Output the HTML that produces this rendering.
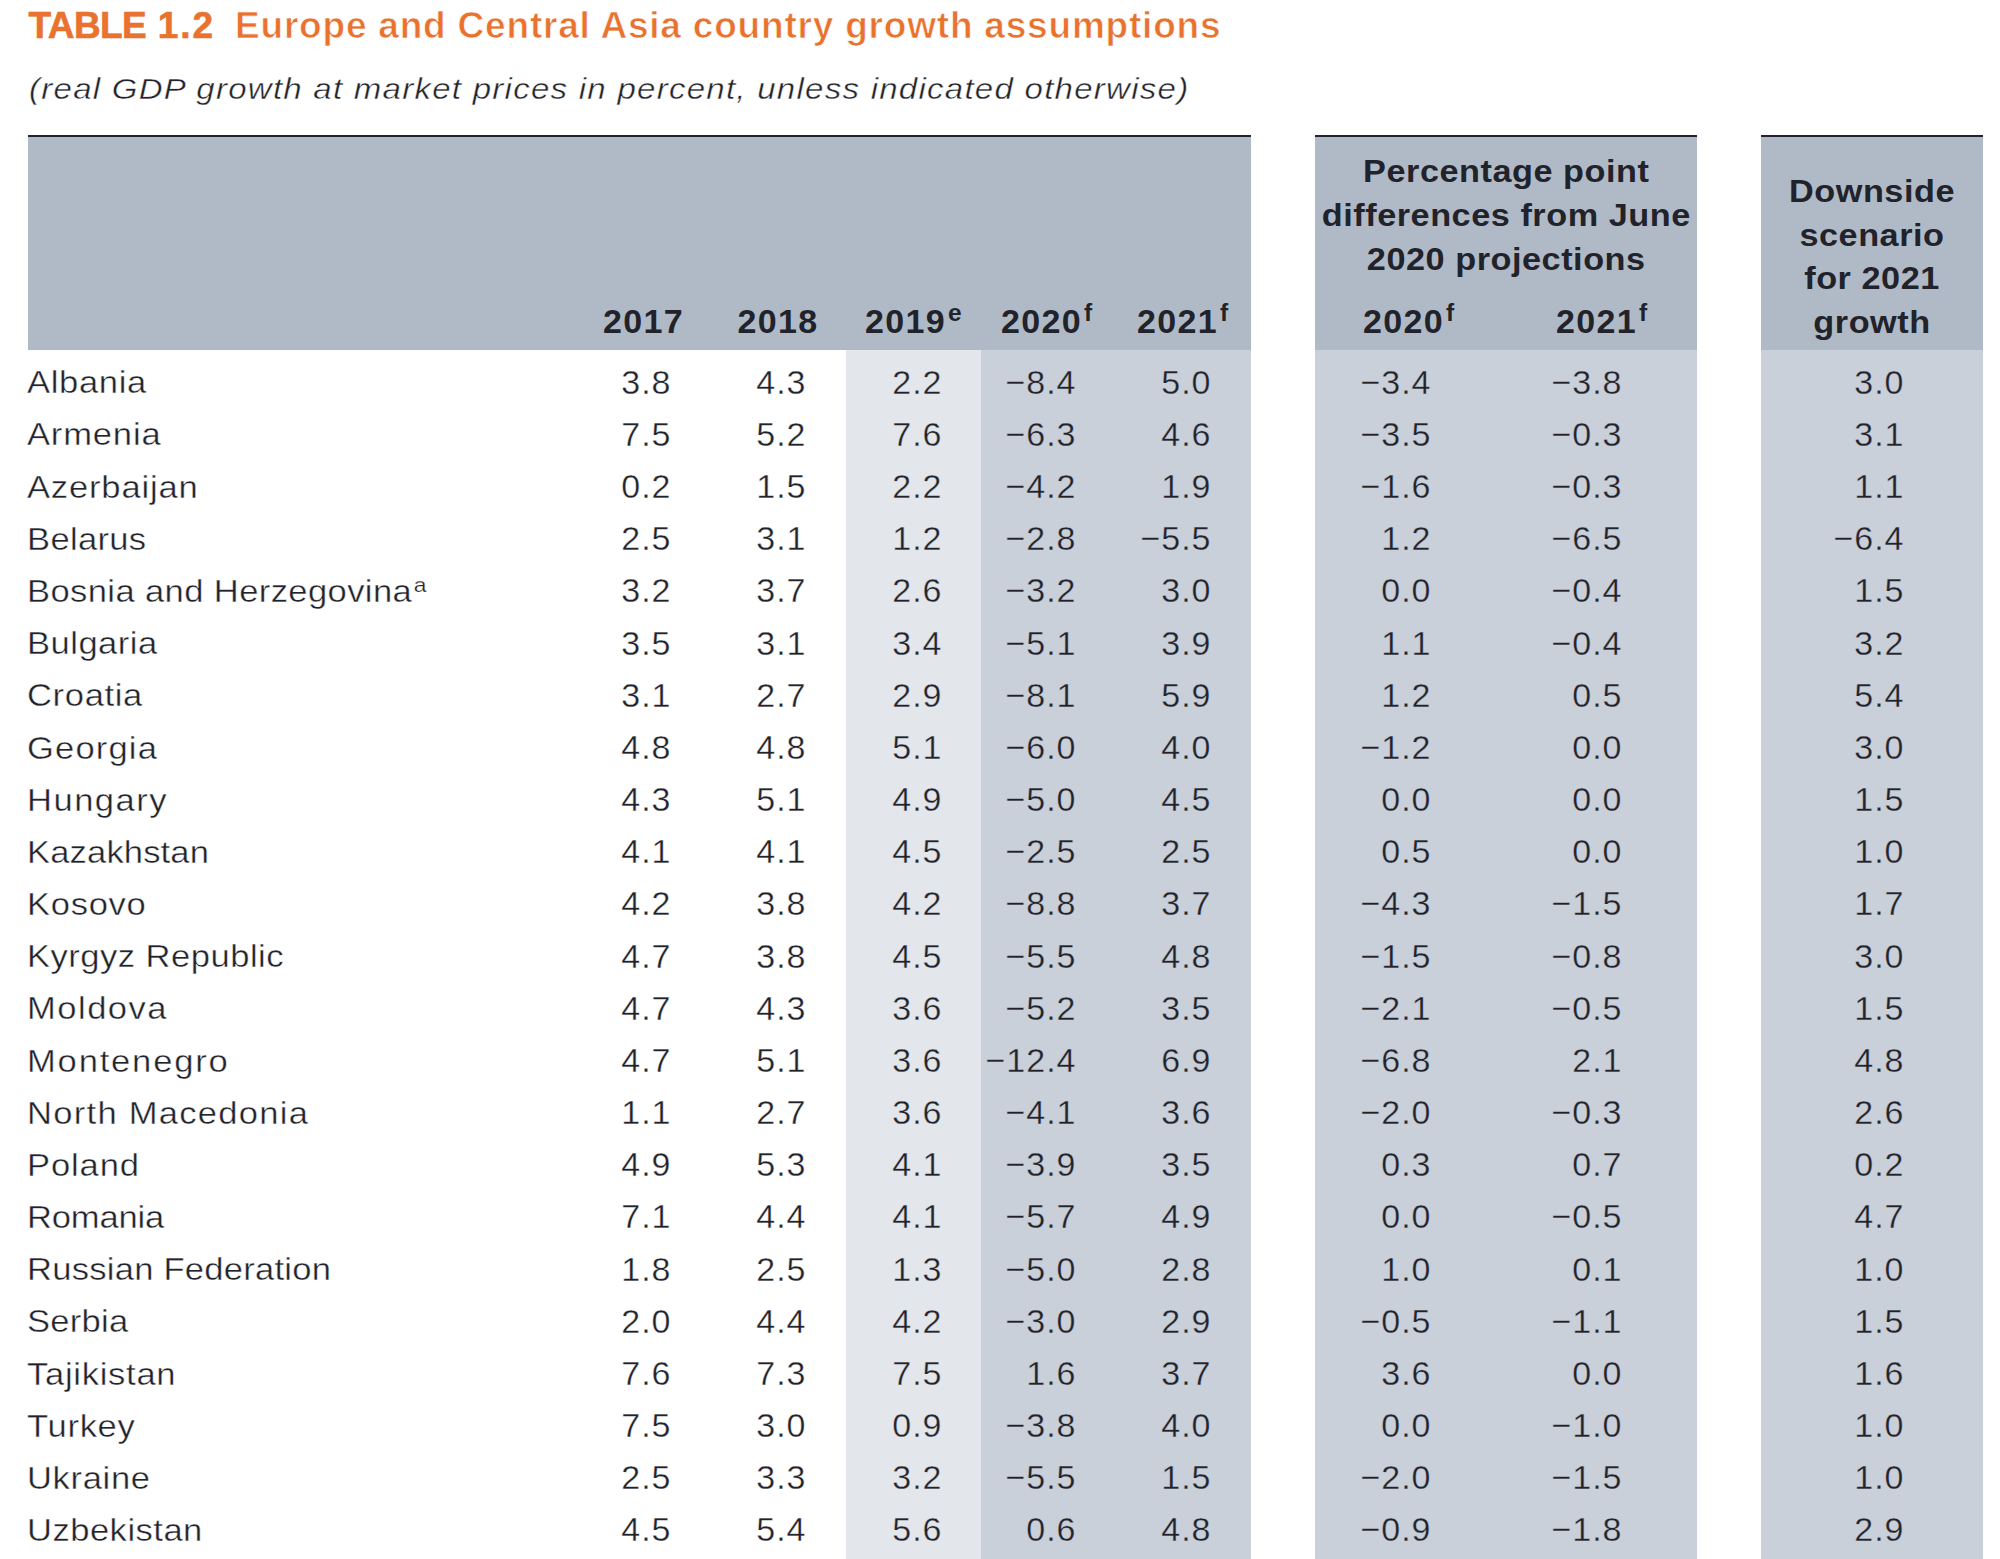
<!DOCTYPE html>
<html lang="en"><head><meta charset="utf-8"><title>Table 1.2 Europe and Central Asia country growth assumptions</title>
<style>
html,body{margin:0;padding:0;background:#fff;}
body{width:2000px;height:1559px;position:relative;overflow:hidden;font-family:"Liberation Sans",sans-serif;color:#22232a;}
.abs{position:absolute;white-space:nowrap;}
.bg{position:absolute;}
.rule{position:absolute;height:2.5px;top:134.5px;background:#24232d;}
.hd{background:#b0bac7;top:137px;height:213px;}
h1{position:absolute;margin:0;white-space:nowrap;font-weight:bold;color:#e8722e;}
.sub{font-style:italic;}
.b{font-weight:bold;}
.row{position:absolute;left:0;width:2000px;height:52px;}
.row span{position:absolute;white-space:nowrap;top:0;}
.c{font-size:32px;line-height:52px;letter-spacing:0.45px;transform:scaleX(1.08);transform-origin:0 50%;-webkit-text-stroke:0.4px #fff;}
.n{margin-top:-0.6px;text-align:right;font-size:34px;line-height:52px;letter-spacing:1px;-webkit-text-stroke:0.35px #c9d0da;}
.k0,.k1{-webkit-text-stroke-color:#fff;}
.k2{-webkit-text-stroke-color:#e3e7ec;}
sup{font-size:0.72em;vertical-align:baseline;position:relative;top:-0.48em;line-height:0;letter-spacing:0;margin-left:2px;}
.row sup{font-size:0.66em;top:-0.46em;-webkit-text-stroke-width:0.25px;margin-left:1.5px;}
.th{position:absolute;white-space:nowrap;font-weight:bold;}
.thc{position:absolute;text-align:center;font-weight:bold;white-space:nowrap;transform:scaleX(1.07);transform-origin:50% 50%;}
</style></head><body>
<h1 style="left:28.5px;top:6.68px;font-size:37px;line-height:37px;letter-spacing:-0.6px;-webkit-text-stroke:0.6px #e8722e;">TABLE <span style="letter-spacing:1.9px;margin-left:2px;">1.2</span><span style="position:absolute;left:206.5px;top:0;letter-spacing:0.8px;-webkit-text-stroke:0.7px #fff;">Europe and Central Asia country growth assumptions</span></h1>
<div class="abs sub" style="left:29px;top:73.60px;font-size:30px;line-height:30px;letter-spacing:1.15px;transform:scaleX(1.1);transform-origin:0 50%;-webkit-text-stroke:0.4px #fff;">(real GDP growth at market prices in percent, unless indicated otherwise)</div>
<div class="rule" style="left:28px;width:1222.5px;"></div>
<div class="bg hd" style="left:28px;width:1222.5px;"></div>
<div class="rule" style="left:1314.5px;width:382.5px;"></div>
<div class="bg hd" style="left:1314.5px;width:382.5px;"></div>
<div class="rule" style="left:1761px;width:222px;"></div>
<div class="bg hd" style="left:1761px;width:222px;"></div>
<div class="bg" style="left:846px;width:135px;top:350px;height:1209px;background:#e3e7ec;"></div>
<div class="bg" style="left:981px;width:269.5px;top:350px;height:1209px;background:#c9d0da;"></div>
<div class="bg" style="left:1314.5px;width:382.5px;top:350px;height:1209px;background:#c9d0da;"></div>
<div class="bg" style="left:1761px;width:222px;top:350px;height:1209px;background:#c9d0da;"></div>
<div class="th" style="left:603px;top:303.92px;font-size:34px;line-height:34px;letter-spacing:1.35px;">2017</div>
<div class="th" style="left:737.5px;top:303.92px;font-size:34px;line-height:34px;letter-spacing:1.35px;">2018</div>
<div class="th" style="left:865px;top:303.92px;font-size:34px;line-height:34px;letter-spacing:1.35px;">2019<sup>e</sup></div>
<div class="th" style="left:1001px;top:303.92px;font-size:34px;line-height:34px;letter-spacing:1.35px;">2020<sup>f</sup></div>
<div class="th" style="left:1137px;top:303.92px;font-size:34px;line-height:34px;letter-spacing:1.35px;">2021<sup>f</sup></div>
<div class="th" style="left:1363px;top:303.92px;font-size:34px;line-height:34px;letter-spacing:1.35px;">2020<sup>f</sup></div>
<div class="th" style="left:1556px;top:303.92px;font-size:34px;line-height:34px;letter-spacing:1.35px;">2021<sup>f</sup></div>
<div class="thc" style="left:1314.5px;width:382.5px;top:155.41px;font-size:32px;line-height:32px;letter-spacing:0.5px;">Percentage point</div>
<div class="thc" style="left:1314.5px;width:382.5px;top:198.91px;font-size:32px;line-height:32px;letter-spacing:0.5px;">differences from June</div>
<div class="thc" style="left:1314.5px;width:382.5px;top:242.91px;font-size:32px;line-height:32px;letter-spacing:0.5px;">2020 projections</div>
<div class="thc" style="left:1761px;width:222px;top:175.41px;font-size:32px;line-height:32px;letter-spacing:0.5px;">Downside</div>
<div class="thc" style="left:1761px;width:222px;top:218.91px;font-size:32px;line-height:32px;letter-spacing:0.5px;">scenario</div>
<div class="thc" style="left:1761px;width:222px;top:261.91px;font-size:32px;line-height:32px;letter-spacing:0.5px;">for 2021</div>
<div class="thc" style="left:1761px;width:222px;top:305.61px;font-size:32px;line-height:32px;letter-spacing:0.5px;">growth</div>
<div class="row" style="top:356.32px;"><span class="c" style="left:27px;letter-spacing:0.60px;">Albania</span><span class="n k0" style="right:1328.5px;">3.8</span><span class="n k1" style="right:1193.5px;">4.3</span><span class="n k2" style="right:1057.5px;">2.2</span><span class="n k3" style="right:923.5px;">−8.4</span><span class="n k4" style="right:788.5px;">5.0</span><span class="n k5" style="right:568.5px;">−3.4</span><span class="n k6" style="right:377.5px;">−3.8</span><span class="n k7" style="right:95.5px;">3.0</span></div>
<div class="row" style="top:408.49px;"><span class="c" style="left:27px;letter-spacing:0.76px;">Armenia</span><span class="n k0" style="right:1328.5px;">7.5</span><span class="n k1" style="right:1193.5px;">5.2</span><span class="n k2" style="right:1057.5px;">7.6</span><span class="n k3" style="right:923.5px;">−6.3</span><span class="n k4" style="right:788.5px;">4.6</span><span class="n k5" style="right:568.5px;">−3.5</span><span class="n k6" style="right:377.5px;">−0.3</span><span class="n k7" style="right:95.5px;">3.1</span></div>
<div class="row" style="top:460.66px;"><span class="c" style="left:27px;letter-spacing:0.76px;">Azerbaijan</span><span class="n k0" style="right:1328.5px;">0.2</span><span class="n k1" style="right:1193.5px;">1.5</span><span class="n k2" style="right:1057.5px;">2.2</span><span class="n k3" style="right:923.5px;">−4.2</span><span class="n k4" style="right:788.5px;">1.9</span><span class="n k5" style="right:568.5px;">−1.6</span><span class="n k6" style="right:377.5px;">−0.3</span><span class="n k7" style="right:95.5px;">1.1</span></div>
<div class="row" style="top:512.83px;"><span class="c" style="left:27px;letter-spacing:0.30px;">Belarus</span><span class="n k0" style="right:1328.5px;">2.5</span><span class="n k1" style="right:1193.5px;">3.1</span><span class="n k2" style="right:1057.5px;">1.2</span><span class="n k3" style="right:923.5px;">−2.8</span><span class="n k4" style="right:788.5px;">−5.5</span><span class="n k5" style="right:568.5px;">1.2</span><span class="n k6" style="right:377.5px;">−6.5</span><span class="n k7" style="right:95.5px;">−6.4</span></div>
<div class="row" style="top:565.00px;"><span class="c" style="left:27px;letter-spacing:0.36px;">Bosnia and Herzegovina<sup>a</sup></span><span class="n k0" style="right:1328.5px;">3.2</span><span class="n k1" style="right:1193.5px;">3.7</span><span class="n k2" style="right:1057.5px;">2.6</span><span class="n k3" style="right:923.5px;">−3.2</span><span class="n k4" style="right:788.5px;">3.0</span><span class="n k5" style="right:568.5px;">0.0</span><span class="n k6" style="right:377.5px;">−0.4</span><span class="n k7" style="right:95.5px;">1.5</span></div>
<div class="row" style="top:617.17px;"><span class="c" style="left:27px;letter-spacing:0.45px;">Bulgaria</span><span class="n k0" style="right:1328.5px;">3.5</span><span class="n k1" style="right:1193.5px;">3.1</span><span class="n k2" style="right:1057.5px;">3.4</span><span class="n k3" style="right:923.5px;">−5.1</span><span class="n k4" style="right:788.5px;">3.9</span><span class="n k5" style="right:568.5px;">1.1</span><span class="n k6" style="right:377.5px;">−0.4</span><span class="n k7" style="right:95.5px;">3.2</span></div>
<div class="row" style="top:669.34px;"><span class="c" style="left:27px;letter-spacing:0.60px;">Croatia</span><span class="n k0" style="right:1328.5px;">3.1</span><span class="n k1" style="right:1193.5px;">2.7</span><span class="n k2" style="right:1057.5px;">2.9</span><span class="n k3" style="right:923.5px;">−8.1</span><span class="n k4" style="right:788.5px;">5.9</span><span class="n k5" style="right:568.5px;">1.2</span><span class="n k6" style="right:377.5px;">0.5</span><span class="n k7" style="right:95.5px;">5.4</span></div>
<div class="row" style="top:721.51px;"><span class="c" style="left:27px;letter-spacing:1.07px;">Georgia</span><span class="n k0" style="right:1328.5px;">4.8</span><span class="n k1" style="right:1193.5px;">4.8</span><span class="n k2" style="right:1057.5px;">5.1</span><span class="n k3" style="right:923.5px;">−6.0</span><span class="n k4" style="right:788.5px;">4.0</span><span class="n k5" style="right:568.5px;">−1.2</span><span class="n k6" style="right:377.5px;">0.0</span><span class="n k7" style="right:95.5px;">3.0</span></div>
<div class="row" style="top:773.68px;"><span class="c" style="left:27px;letter-spacing:1.38px;">Hungary</span><span class="n k0" style="right:1328.5px;">4.3</span><span class="n k1" style="right:1193.5px;">5.1</span><span class="n k2" style="right:1057.5px;">4.9</span><span class="n k3" style="right:923.5px;">−5.0</span><span class="n k4" style="right:788.5px;">4.5</span><span class="n k5" style="right:568.5px;">0.0</span><span class="n k6" style="right:377.5px;">0.0</span><span class="n k7" style="right:95.5px;">1.5</span></div>
<div class="row" style="top:825.85px;"><span class="c" style="left:27px;letter-spacing:0.14px;">Kazakhstan</span><span class="n k0" style="right:1328.5px;">4.1</span><span class="n k1" style="right:1193.5px;">4.1</span><span class="n k2" style="right:1057.5px;">4.5</span><span class="n k3" style="right:923.5px;">−2.5</span><span class="n k4" style="right:788.5px;">2.5</span><span class="n k5" style="right:568.5px;">0.5</span><span class="n k6" style="right:377.5px;">0.0</span><span class="n k7" style="right:95.5px;">1.0</span></div>
<div class="row" style="top:878.02px;"><span class="c" style="left:27px;letter-spacing:0.64px;">Kosovo</span><span class="n k0" style="right:1328.5px;">4.2</span><span class="n k1" style="right:1193.5px;">3.8</span><span class="n k2" style="right:1057.5px;">4.2</span><span class="n k3" style="right:923.5px;">−8.8</span><span class="n k4" style="right:788.5px;">3.7</span><span class="n k5" style="right:568.5px;">−4.3</span><span class="n k6" style="right:377.5px;">−1.5</span><span class="n k7" style="right:95.5px;">1.7</span></div>
<div class="row" style="top:930.19px;"><span class="c" style="left:27px;letter-spacing:0.45px;">Kyrgyz Republic</span><span class="n k0" style="right:1328.5px;">4.7</span><span class="n k1" style="right:1193.5px;">3.8</span><span class="n k2" style="right:1057.5px;">4.5</span><span class="n k3" style="right:923.5px;">−5.5</span><span class="n k4" style="right:788.5px;">4.8</span><span class="n k5" style="right:568.5px;">−1.5</span><span class="n k6" style="right:377.5px;">−0.8</span><span class="n k7" style="right:95.5px;">3.0</span></div>
<div class="row" style="top:982.36px;"><span class="c" style="left:27px;letter-spacing:1.38px;">Moldova</span><span class="n k0" style="right:1328.5px;">4.7</span><span class="n k1" style="right:1193.5px;">4.3</span><span class="n k2" style="right:1057.5px;">3.6</span><span class="n k3" style="right:923.5px;">−5.2</span><span class="n k4" style="right:788.5px;">3.5</span><span class="n k5" style="right:568.5px;">−2.1</span><span class="n k6" style="right:377.5px;">−0.5</span><span class="n k7" style="right:95.5px;">1.5</span></div>
<div class="row" style="top:1034.53px;"><span class="c" style="left:27px;letter-spacing:1.68px;">Montenegro</span><span class="n k0" style="right:1328.5px;">4.7</span><span class="n k1" style="right:1193.5px;">5.1</span><span class="n k2" style="right:1057.5px;">3.6</span><span class="n k3" style="right:923.5px;">−12.4</span><span class="n k4" style="right:788.5px;">6.9</span><span class="n k5" style="right:568.5px;">−6.8</span><span class="n k6" style="right:377.5px;">2.1</span><span class="n k7" style="right:95.5px;">4.8</span></div>
<div class="row" style="top:1086.70px;"><span class="c" style="left:27px;letter-spacing:1.18px;">North Macedonia</span><span class="n k0" style="right:1328.5px;">1.1</span><span class="n k1" style="right:1193.5px;">2.7</span><span class="n k2" style="right:1057.5px;">3.6</span><span class="n k3" style="right:923.5px;">−4.1</span><span class="n k4" style="right:788.5px;">3.6</span><span class="n k5" style="right:568.5px;">−2.0</span><span class="n k6" style="right:377.5px;">−0.3</span><span class="n k7" style="right:95.5px;">2.6</span></div>
<div class="row" style="top:1138.87px;"><span class="c" style="left:27px;letter-spacing:0.82px;">Poland</span><span class="n k0" style="right:1328.5px;">4.9</span><span class="n k1" style="right:1193.5px;">5.3</span><span class="n k2" style="right:1057.5px;">4.1</span><span class="n k3" style="right:923.5px;">−3.9</span><span class="n k4" style="right:788.5px;">3.5</span><span class="n k5" style="right:568.5px;">0.3</span><span class="n k6" style="right:377.5px;">0.7</span><span class="n k7" style="right:95.5px;">0.2</span></div>
<div class="row" style="top:1191.04px;"><span class="c" style="left:27px;letter-spacing:-0.17px;">Romania</span><span class="n k0" style="right:1328.5px;">7.1</span><span class="n k1" style="right:1193.5px;">4.4</span><span class="n k2" style="right:1057.5px;">4.1</span><span class="n k3" style="right:923.5px;">−5.7</span><span class="n k4" style="right:788.5px;">4.9</span><span class="n k5" style="right:568.5px;">0.0</span><span class="n k6" style="right:377.5px;">−0.5</span><span class="n k7" style="right:95.5px;">4.7</span></div>
<div class="row" style="top:1243.21px;"><span class="c" style="left:27px;letter-spacing:0.23px;">Russian Federation</span><span class="n k0" style="right:1328.5px;">1.8</span><span class="n k1" style="right:1193.5px;">2.5</span><span class="n k2" style="right:1057.5px;">1.3</span><span class="n k3" style="right:923.5px;">−5.0</span><span class="n k4" style="right:788.5px;">2.8</span><span class="n k5" style="right:568.5px;">1.0</span><span class="n k6" style="right:377.5px;">0.1</span><span class="n k7" style="right:95.5px;">1.0</span></div>
<div class="row" style="top:1295.38px;"><span class="c" style="left:27px;letter-spacing:0.26px;">Serbia</span><span class="n k0" style="right:1328.5px;">2.0</span><span class="n k1" style="right:1193.5px;">4.4</span><span class="n k2" style="right:1057.5px;">4.2</span><span class="n k3" style="right:923.5px;">−3.0</span><span class="n k4" style="right:788.5px;">2.9</span><span class="n k5" style="right:568.5px;">−0.5</span><span class="n k6" style="right:377.5px;">−1.1</span><span class="n k7" style="right:95.5px;">1.5</span></div>
<div class="row" style="top:1347.55px;"><span class="c" style="left:27px;letter-spacing:0.66px;">Tajikistan</span><span class="n k0" style="right:1328.5px;">7.6</span><span class="n k1" style="right:1193.5px;">7.3</span><span class="n k2" style="right:1057.5px;">7.5</span><span class="n k3" style="right:923.5px;">1.6</span><span class="n k4" style="right:788.5px;">3.7</span><span class="n k5" style="right:568.5px;">3.6</span><span class="n k6" style="right:377.5px;">0.0</span><span class="n k7" style="right:95.5px;">1.6</span></div>
<div class="row" style="top:1399.72px;"><span class="c" style="left:27px;letter-spacing:0.64px;">Turkey</span><span class="n k0" style="right:1328.5px;">7.5</span><span class="n k1" style="right:1193.5px;">3.0</span><span class="n k2" style="right:1057.5px;">0.9</span><span class="n k3" style="right:923.5px;">−3.8</span><span class="n k4" style="right:788.5px;">4.0</span><span class="n k5" style="right:568.5px;">0.0</span><span class="n k6" style="right:377.5px;">−1.0</span><span class="n k7" style="right:95.5px;">1.0</span></div>
<div class="row" style="top:1451.89px;"><span class="c" style="left:27px;letter-spacing:0.60px;">Ukraine</span><span class="n k0" style="right:1328.5px;">2.5</span><span class="n k1" style="right:1193.5px;">3.3</span><span class="n k2" style="right:1057.5px;">3.2</span><span class="n k3" style="right:923.5px;">−5.5</span><span class="n k4" style="right:788.5px;">1.5</span><span class="n k5" style="right:568.5px;">−2.0</span><span class="n k6" style="right:377.5px;">−1.5</span><span class="n k7" style="right:95.5px;">1.0</span></div>
<div class="row" style="top:1504.06px;"><span class="c" style="left:27px;letter-spacing:0.45px;">Uzbekistan</span><span class="n k0" style="right:1328.5px;">4.5</span><span class="n k1" style="right:1193.5px;">5.4</span><span class="n k2" style="right:1057.5px;">5.6</span><span class="n k3" style="right:923.5px;">0.6</span><span class="n k4" style="right:788.5px;">4.8</span><span class="n k5" style="right:568.5px;">−0.9</span><span class="n k6" style="right:377.5px;">−1.8</span><span class="n k7" style="right:95.5px;">2.9</span></div>
</body></html>
